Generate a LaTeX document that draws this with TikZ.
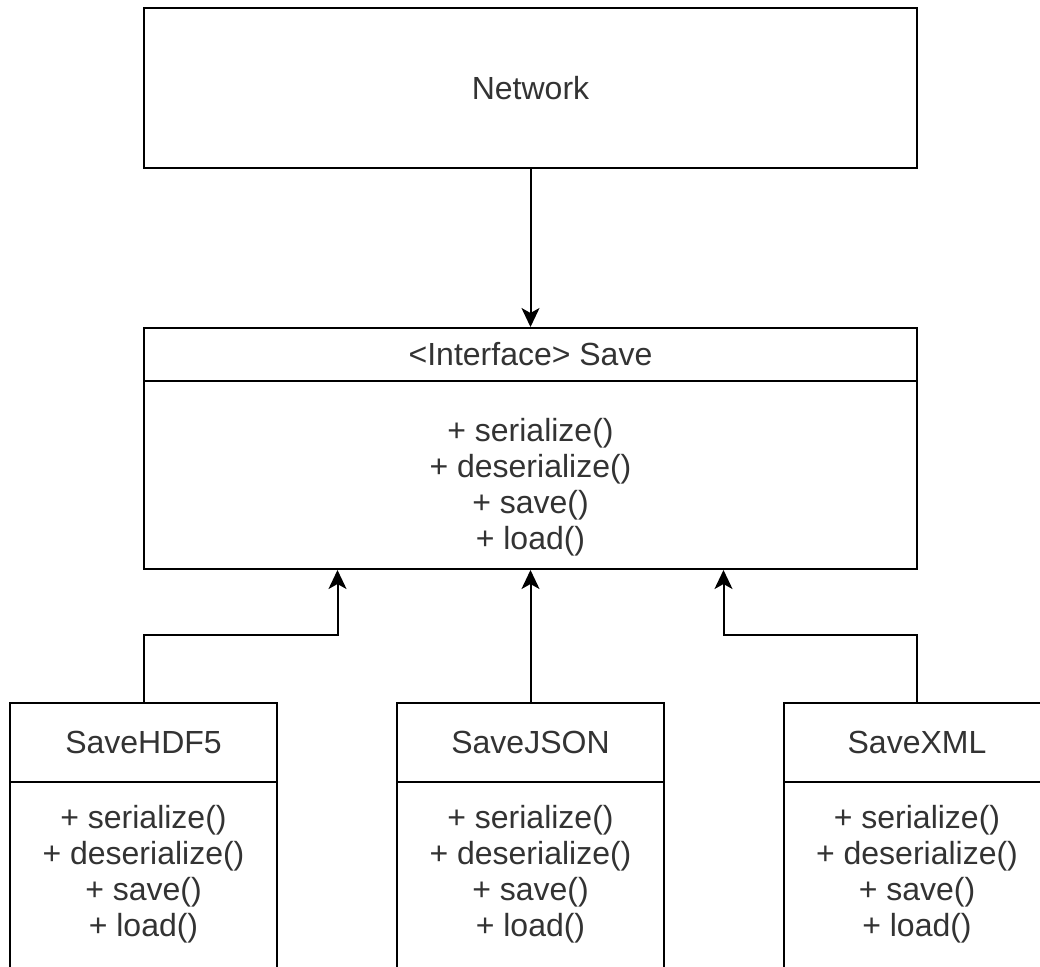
\documentclass[tikz,border=0pt]{standalone}
\usepackage{fontspec}
\setmainfont{Liberation Sans}
\usetikzlibrary{arrows.meta}
\definecolor{textgray}{HTML}{333333}
\tikzset{
  box/.style={draw=black, line width=1pt, fill=white, inner sep=0pt, minimum width=#1},
  box/.default=386.5pt,
  txt/.style={text=textgray, font=\fontsize{16}{18}\selectfont, align=center, inner sep=0pt},
  conn/.style={draw=black, line width=1pt, -{Stealth[length=9.5pt,width=9pt,inset=2.5pt]}},
}
\begin{document}
\begin{tikzpicture}[x=0.5pt,y=-0.5pt]
\clip (0,0) rectangle (1040,966);
\fill[white] (0,0) rectangle (1040,966);
% Network
\node[box, minimum height=80pt, txt] (net) at (530.5,88) {Network};
% Interface
\node[box, minimum height=26.5pt, txt] (ifh) at (530.5,354.5) {<Interface> Save};
\node[box, minimum height=94pt] (ifb) at (530.5,475) {};
\node[txt] (ift) at (530.5,487) {+ serialize()\\+ deserialize()\\+ save()\\+ load()};
% Bottom classes
\foreach \n/\x/\t in {hdf/143.5/SaveHDF5, json/530.5/SaveJSON, xml/917/SaveXML}{
  \node[box=133.5pt, minimum height=39.5pt, txt] (\n h) at (\x,742.5) {\t};
  \node[box=133.5pt, minimum height=109pt] (\n b) at (\x,891) {};
  \node[txt] (\n t) at (\x,874) {+ serialize()\\+ deserialize()\\+ save()\\+ load()};
}
% Connectors
\draw[conn] (net.south) -- (ifh.north);
\draw[conn] (jsonh.north) -- (ifb.south);
\draw[conn] (hdfh.north) -- ++(0,-67) -| ([xshift=-96.5pt]ifb.south);
\draw[conn] (xmlh.north) -- ++(0,-67) -| ([xshift=96.5pt]ifb.south);
\end{tikzpicture}
\end{document}
